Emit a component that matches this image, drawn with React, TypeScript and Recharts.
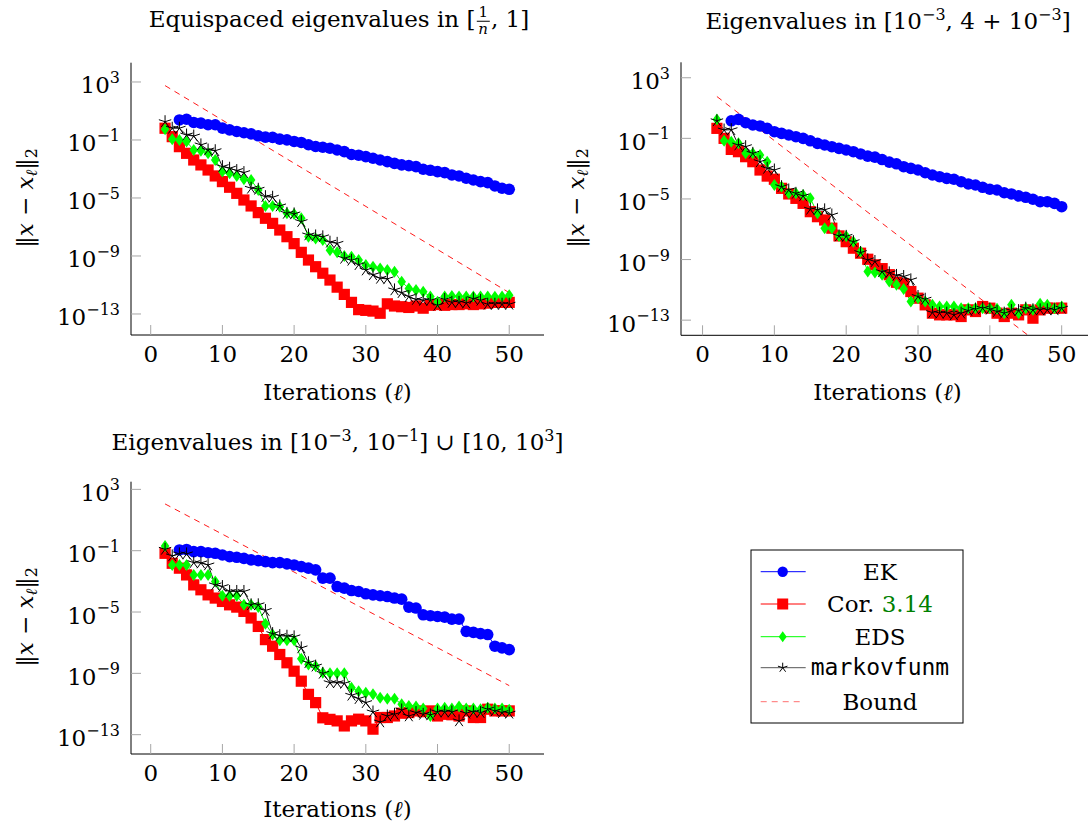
import React from "react";
import { LineChart, Line, XAxis, YAxis } from "recharts";

const SERIF = '"DejaVu Serif", serif';
const MONO = '"DejaVu Sans Mono", monospace';
const FS = 23;
const FS_SMALL = 16;

// iteration counts shown on the x axis (EK starts at 4)
const iterations = [
  2, 3, 4, 5, 6, 7, 8, 9, 10, 11, 12, 13, 14, 15, 16, 17, 18, 19, 20, 21, 22, 23, 24, 25, 26,
  27, 28, 29, 30, 31, 32, 33, 34, 35, 36, 37, 38, 39, 40, 41, 42, 43, 44, 45, 46, 47, 48, 49, 50,
];
const boundIts = [2, 50];
const xTicks = [0, 10, 20, 30, 40, 50];
const yTicks = [1e3, 1e-1, 1e-5, 1e-9, 1e-13];

// all errors below are log10 of ||x - x_l||_2

// --- Equispaced eigenvalues in [1/n, 1]
const ek1 = [
  0.38, 0.43, 0.21, 0.16, 0.05, 0.05, -0.18, -0.3, -0.41, -0.5, -0.58, -0.71, -0.8, -0.82, -0.94,
  -0.99, -1.1, -1.17, -1.33, -1.45, -1.5, -1.57, -1.69, -1.8, -2.0, -2.05, -2.15, -2.26, -2.38,
  -2.49, -2.61, -2.72, -2.77, -2.84, -3.02, -3.09, -3.18, -3.25, -3.41, -3.48, -3.64, -3.76,
  -3.87, -3.94, -4.17, -4.33, -4.4,
];
const cor1 = [
  -0.19, -0.77, -1.46, -1.92, -2.38, -2.72, -3.07, -3.48, -3.87, -4.26, -4.68, -5.14, -5.55,
  -6.01, -6.4, -6.75, -7.21, -7.67, -8.15, -8.75, -9.28, -9.74, -10.19, -10.66, -11.15, -11.65,
  -12.2, -12.7, -12.75, -12.8, -12.95, -12.3, -12.45, -12.5, -12.55, -12.45, -12.6, -12.4,
  -12.35, -12.4, -12.35, -12.35, -12.3, -12.35, -12.3, -12.25, -12.2, -12.2, -12.2,
];
const eds1 = [
  -0.26, -0.95, -1.0, -1.11, -1.69, -1.74, -1.92, -2.38, -3.18, -3.3, -3.48, -3.71, -3.76, -4.45,
  -5.55, -5.55, -5.6, -6.06, -6.1, -6.4, -7.67, -7.8, -7.9, -8.6, -8.75, -9.0, -9.05, -9.28,
  -9.62, -9.74, -9.86, -9.97, -10.09, -10.78, -11.24, -11.34, -11.47, -11.8, -12.15, -11.8,
  -11.76, -11.8, -11.8, -11.8, -11.8, -11.8, -11.82, -11.8, -11.7,
];
const mf1 = [
  0.26, -0.19, -0.19, -0.66, -0.73, -1.34, -1.69, -1.74, -2.84, -2.95, -3.11, -3.25, -4.33, -4.4,
  -4.91, -4.95, -5.55, -6.06, -6.1, -6.63, -7.55, -7.62, -7.68, -8.05, -8.13, -9.16, -9.3, -9.6,
  -9.97, -10.3, -10.54, -10.58, -11.34, -11.53, -11.8, -12.0, -12.06, -12.06, -12.4, -12.0,
  -12.2, -12.2, -12.25, -11.95, -12.06, -12.33, -12.33, -12.33, -12.33,
];
const bound1 = [2.75, -11.53];

// --- Eigenvalues in [1e-3, 4 + 1e-3]
const ek2 = [
  0.16, 0.25, 0.03, -0.12, -0.18, -0.34, -0.56, -0.67, -0.78, -0.89, -1.0, -1.16, -1.33, -1.44,
  -1.55, -1.66, -1.77, -1.88, -2.03, -2.17, -2.24, -2.4, -2.57, -2.68, -2.87, -2.98, -3.09,
  -3.27, -3.42, -3.53, -3.64, -3.7, -3.86, -4.01, -4.08, -4.23, -4.36, -4.41, -4.59, -4.67, -4.8,
  -4.89, -5.02, -5.18, -5.18, -5.29, -5.51,
];
const cor2 = [
  -0.34, -1.0, -1.73, -1.88, -2.21, -2.54, -3.09, -3.49, -3.7, -4.3, -4.67, -4.96, -5.29, -5.84,
  -6.17, -6.39, -6.93, -7.44, -7.82, -8.25, -8.58, -8.98, -9.35, -9.6, -10.0, -10.5, -10.6,
  -11.11, -11.55, -11.99, -12.54, -12.65, -12.65, -12.65, -12.76, -12.32, -12.43, -12.1, -12.21,
  -12.54, -12.76, -12.54, -12.65, -12.32, -12.87, -12.32, -12.21, -12.21, -12.21,
];
const eds2 = [
  0.25, -1.16, -1.22, -1.33, -1.99, -1.99, -2.1, -2.54, -4.08, -4.19, -4.63, -4.63, -4.74, -4.96,
  -5.94, -6.93, -6.93, -7.44, -7.47, -7.82, -8.48, -9.79, -9.86, -10.0, -10.45, -10.67, -10.95,
  -11.77, -11.55, -11.77, -11.99, -12.1, -12.1, -12.1, -12.21, -12.21, -12.21, -12.21, -12.21,
  -12.25, -12.54, -11.99, -12.54, -12.21, -12.32, -11.92, -11.99, -12.21, -12.1,
];
const mf2 = [
  0.16, -0.45, -0.43, -1.44, -1.55, -1.99, -2.54, -2.98, -3.09, -4.19, -4.41, -4.63, -4.8, -5.68,
  -5.72, -5.72, -6.06, -7.44, -7.47, -7.82, -8.54, -9.02, -9.13, -9.8, -9.88, -10.05, -10.12,
  -10.34, -11.44, -11.62, -12.5, -12.54, -12.54, -12.65, -12.54, -12.37, -12.28, -12.21, -12.28,
  -12.43, -12.54, -12.37, -12.37, -12.21, -12.32, -12.32, -12.32, -12.32, -12.21,
];
const bound2 = [1.76, -15.7];

// --- Eigenvalues in [1e-3, 1e-1] u [10, 1e3]
const ek3 = [
  -0.95, -0.92, -1.06, -1.06, -1.13, -1.17, -1.28, -1.39, -1.43, -1.5, -1.6, -1.65, -1.71, -1.78,
  -1.78, -1.86, -1.93, -2.04, -2.14, -2.25, -2.79, -2.79, -3.34, -3.44, -3.6, -3.66, -3.81,
  -3.88, -3.94, -3.99, -4.09, -4.16, -4.68, -4.74, -5.18, -5.24, -5.29, -5.33, -5.46, -5.46,
  -6.26, -6.33, -6.41, -6.47, -7.23, -7.34, -7.45,
];
const cor3 = [
  -1.17, -1.82, -2.14, -2.58, -3.23, -3.55, -3.88, -4.09, -4.31, -4.53, -4.68, -4.96, -5.39,
  -5.94, -6.8, -7.23, -7.77, -8.31, -8.86, -9.51, -10.37, -10.91, -11.9, -12.0, -12.1, -12.43,
  -12.1, -11.99, -12.1, -12.64, -11.88, -11.88, -11.78, -11.6, -11.56, -11.45, -11.5, -11.45,
  -11.78, -11.67, -11.7, -11.78, -11.45, -11.88, -11.88, -11.34, -11.45, -11.45, -11.45,
];
const eds3 = [
  -0.69, -1.93, -1.93, -1.93, -2.58, -2.58, -2.58, -3.01, -3.94, -3.94, -3.94, -4.53, -4.53,
  -4.68, -5.76, -6.47, -6.84, -6.84, -6.84, -8.05, -8.42, -8.53, -8.96, -9.0, -9.0, -9.0, -9.94,
  -10.16, -10.26, -10.37, -10.59, -10.65, -10.65, -11.02, -11.13, -11.17, -11.3, -11.78, -11.3,
  -11.24, -11.3, -11.17, -11.3, -11.3, -11.34, -11.24, -11.3, -11.3, -11.37,
];
const mf3 = [
  -0.91, -1.34, -1.21, -1.21, -1.78, -1.8, -1.93, -3.23, -3.34, -3.66, -3.66, -3.66, -4.53, -4.53,
  -4.9, -6.41, -6.54, -6.58, -6.62, -7.34, -8.31, -8.53, -9.0, -9.61, -9.61, -9.65, -10.43,
  -10.65, -10.91, -11.52, -12.17, -11.78, -11.67, -11.39, -11.78, -11.56, -11.67, -11.71, -11.52,
  -11.52, -11.52, -12.1, -11.6, -11.52, -11.56, -11.34, -11.45, -11.56, -11.6,
];
const bound3 = [2.05, -9.8];

type Row = {
  x: number;
  ek: number | null;
  cor: number;
  eds: number;
  mf: number;
  bound: number | null;
};

function buildRows(ek: number[], cor: number[], eds: number[], mf: number[], bound: number[]): Row[] {
  return iterations.map((it, k) => {
    const b = boundIts.indexOf(it);
    return {
      x: it,
      ek: it >= 4 ? 10 ** ek[k - 2] : null,
      cor: 10 ** cor[k],
      eds: 10 ** eds[k],
      mf: 10 ** mf[k],
      bound: b >= 0 ? 10 ** bound[b] : null,
    };
  });
}

// ---------- marks ----------
const BLUE = "#0000ff";
const RED = "#ff0000";
const GREEN = "#00ff00";

function starPath(cx: number, cy: number, r: number) {
  let d = "";
  for (let k = 0; k < 5; k++) {
    const a = Math.PI / 2 + (k * 2 * Math.PI) / 5;
    d += `M${cx} ${cy}L${cx + r * Math.cos(a)} ${cy - r * Math.sin(a)}`;
  }
  return d;
}

const bad = (v: any) => v == null || Number.isNaN(v);

const circleDot = (p: any) =>
  bad(p.cy) ? <g key={`c${p.index}`} /> : <circle key={`c${p.index}`} cx={p.cx} cy={p.cy} r={5.8} fill={BLUE} />;

const squareDot = (p: any) =>
  bad(p.cy) ? (
    <g key={`s${p.index}`} />
  ) : (
    <rect key={`s${p.index}`} x={p.cx - 5.6} y={p.cy - 5.6} width={11.2} height={11.2} fill={RED} />
  );

const diamondDot = (p: any) =>
  bad(p.cy) ? (
    <g key={`d${p.index}`} />
  ) : (
    <polygon
      key={`d${p.index}`}
      points={`${p.cx},${p.cy - 6} ${p.cx + 4.3},${p.cy} ${p.cx},${p.cy + 6} ${p.cx - 4.3},${p.cy}`}
      fill={GREEN}
    />
  );

const starDot = (p: any) =>
  bad(p.cy) ? (
    <g key={`t${p.index}`} />
  ) : (
    <path key={`t${p.index}`} d={starPath(p.cx, p.cy, 6.5)} stroke="#000" strokeWidth={1} fill="none" />
  );

// ---------- ticks ----------
const YTick = ({ x, y, payload }: any) => {
  const p = Math.round(Math.log10(payload.value));
  return (
    <text x={x} y={y + 11.5} textAnchor="end" fill="#000" fontFamily={SERIF} fontSize={FS}>
      10
      <tspan dy={-10.5} fontSize={FS_SMALL}>
        {p < 0 ? `\u2212${-p}` : `${p}`}
      </tspan>
    </text>
  );
};

const XTick = ({ x, y, payload }: any) => (
  <text x={x} y={y + 27} textAnchor="middle" fill="#000" fontFamily={SERIF} fontSize={FS}>
    {payload.value}
  </text>
);

type PanelProps = {
  left: number;
  top: number;
  width: number;
  height: number;
  plotLeft: number;
  plotTop: number;
  plotRight: number;
  plotBottom: number;
  xDomain: [number, number];
  yExp: [number, number];
  rows: Row[];
};

function Panel(props: PanelProps) {
  const { left, top, width, height, plotLeft, plotTop, plotRight, plotBottom, xDomain, yExp, rows } = props;
  const yDomain = [10 ** yExp[0], 10 ** yExp[1]];
  const tickLine = { stroke: "#a6a6a6", strokeWidth: 1 };
  const axisLine = { stroke: "#000", strokeWidth: 1 };
  return (
    <div style={{ position: "absolute", left, top, width, height }}>
      <LineChart
        width={width}
        height={height}
        data={rows}
        margin={{ top: plotTop, right: width - plotRight, bottom: 0, left: 0 }}
      >
        <XAxis
          xAxisId="b"
          dataKey="x"
          type="number"
          domain={xDomain}
          ticks={xTicks}
          allowDataOverflow
          height={height - plotBottom}
          tickSize={-10}
          tickMargin={10}
          tickLine={tickLine}
          axisLine={axisLine}
          tick={<XTick />}
        />
        <XAxis
          xAxisId="t"
          orientation="top"
          dataKey="x"
          type="number"
          domain={xDomain}
          ticks={xTicks}
          allowDataOverflow
          height={0}
          tickSize={-10}
          tick={false}
          tickLine={tickLine}
          axisLine={axisLine}
        />
        <YAxis
          yAxisId="l"
          type="number"
          scale="log"
          domain={yDomain}
          ticks={yTicks}
          allowDataOverflow
          width={plotLeft}
          tickSize={-10}
          tickMargin={21}
          tickLine={tickLine}
          axisLine={axisLine}
          tick={<YTick />}
        />
        <YAxis
          yAxisId="r"
          orientation="right"
          type="number"
          scale="log"
          domain={yDomain}
          ticks={yTicks}
          allowDataOverflow
          width={0}
          tickSize={-10}
          tick={false}
          tickLine={tickLine}
          axisLine={axisLine}
        />
        <Line
          xAxisId="b"
          yAxisId="l"
          dataKey="ek"
          stroke={BLUE}
          strokeWidth={1}
          dot={circleDot}
          isAnimationActive={false}
        />
        <Line
          xAxisId="b"
          yAxisId="l"
          dataKey="cor"
          stroke={RED}
          strokeWidth={1}
          dot={squareDot}
          isAnimationActive={false}
        />
        <Line
          xAxisId="b"
          yAxisId="l"
          dataKey="eds"
          stroke={GREEN}
          strokeWidth={1}
          dot={diamondDot}
          isAnimationActive={false}
        />
        <Line
          xAxisId="b"
          yAxisId="l"
          dataKey="mf"
          stroke="#000"
          strokeWidth={0.9}
          dot={starDot}
          isAnimationActive={false}
        />
        <Line
          xAxisId="b"
          yAxisId="l"
          dataKey="bound"
          stroke={RED}
          strokeWidth={0.9}
          strokeDasharray="6 5"
          connectNulls
          dot={false}
          isAnimationActive={false}
        />
      </LineChart>
    </div>
  );
}

const center = (x: number, y: number, extra: React.CSSProperties = {}): React.CSSProperties => ({
  position: "absolute",
  left: x,
  top: y,
  transform: "translate(-50%, -50%)",
  whiteSpace: "nowrap",
  fontFamily: SERIF,
  fontSize: FS,
  lineHeight: 1,
  color: "#000",
  ...extra,
});

const supStyle: React.CSSProperties = { fontSize: FS_SMALL, verticalAlign: "0.55em", lineHeight: 0 };
const subStyle: React.CSSProperties = { fontSize: FS_SMALL, verticalAlign: "-0.3em", lineHeight: 0 };

function YLabel({ x, y }: { x: number; y: number }) {
  return (
    <div style={center(x, y, { transform: "translate(-50%, -50%) rotate(-90deg)" })}>
      ‖<i>x</i> − <i>x</i>
      <span style={subStyle}>
        <i>ℓ</i>
      </span>
      ‖<span style={subStyle}>2</span>
    </div>
  );
}

function XLabel({ x, y }: { x: number; y: number }) {
  return (
    <div style={center(x, y)}>
      Iterations (<i>ℓ</i>)
    </div>
  );
}

function Legend() {
  const rowsY = [31.7, 64, 96.7, 127.7, 161.7];
  const x0 = 20.7;
  const x1 = 65.7;
  const mx = 42.7;
  const tx = 140;
  const txt = { fontFamily: SERIF, fontSize: FS, fill: "#000", textAnchor: "middle" as const };
  return (
    <svg style={{ position: "absolute", left: 740, top: 540 }} width={240} height={190}>
      <rect x={11} y={10} width={212} height={173} fill="#fff" stroke="#000" strokeWidth={1} />
      <line x1={x0} x2={x1} y1={rowsY[0]} y2={rowsY[0]} stroke={BLUE} />
      <circle cx={mx} cy={rowsY[0]} r={5.2} fill={BLUE} />
      <text x={tx} y={rowsY[0] + 8} {...txt}>
        EK
      </text>
      <line x1={x0} x2={x1} y1={rowsY[1]} y2={rowsY[1]} stroke={RED} />
      <rect x={mx - 5.5} y={rowsY[1] - 5.5} width={11} height={11} fill={RED} />
      <text x={tx} y={rowsY[1] + 8} {...txt}>
        Cor. <tspan fill="#008000">3.14</tspan>
      </text>
      <line x1={x0} x2={x1} y1={rowsY[2]} y2={rowsY[2]} stroke={GREEN} />
      <polygon
        points={`${mx},${rowsY[2] - 5.5} ${mx + 4},${rowsY[2]} ${mx},${rowsY[2] + 5.5} ${mx - 4},${rowsY[2]}`}
        fill={GREEN}
      />
      <text x={tx} y={rowsY[2] + 8} {...txt}>
        EDS
      </text>
      <line x1={x0} x2={x1} y1={rowsY[3]} y2={rowsY[3]} stroke="#555" />
      <path d={starPath(mx, rowsY[3], 5)} stroke="#000" strokeWidth={1} />
      <text x={tx} y={rowsY[3] + 7} {...txt} fontFamily={MONO} fontSize={23}>
        markovfunm
      </text>
      <line
        x1={x0}
        x2={x1 - 4}
        y1={rowsY[4]}
        y2={rowsY[4]}
        stroke="#ff7070"
        strokeDasharray="6 5"
      />
      <text x={tx} y={rowsY[4] + 8} {...txt}>
        Bound
      </text>
    </svg>
  );
}

export default function App() {
  const rows1 = buildRows(ek1, cor1, eds1, mf1, bound1);
  const rows2 = buildRows(ek2, cor2, eds2, mf2, bound2);
  const rows3 = buildRows(ek3, cor3, eds3, mf3, bound3);
  return (
    <div
      style={{
        position: "absolute",
        left: 0,
        top: 0,
        width: 1088,
        height: 825,
        overflow: "hidden",
        background: "#fff",
      }}
    >
      <Panel
        left={0}
        top={0}
        width={560}
        height={420}
        plotLeft={131}
        plotTop={62.7}
        plotRight={544}
        plotBottom={335}
        xDomain={[-2.75, 54.85]}
        yExp={[-14.45, 4.33]}
        rows={rows1}
      />
      <Panel
        left={560}
        top={0}
        width={560}
        height={420}
        plotLeft={121}
        plotTop={62.3}
        plotRight={534}
        plotBottom={335.3}
        xDomain={[-3.0, 54.5]}
        yExp={[-14.0, 4.02]}
        rows={rows2}
      />
      <Panel
        left={0}
        top={420}
        width={560}
        height={405}
        plotLeft={131}
        plotTop={61.7}
        plotRight={544}
        plotBottom={334}
        xDomain={[-2.75, 54.85]}
        yExp={[-14.26, 3.5]}
        rows={rows3}
      />

      <div style={center(339, 21)}>
        Equispaced eigenvalues in [
        <span
          style={{
            display: "inline-flex",
            flexDirection: "column",
            alignItems: "center",
            verticalAlign: "middle",
            fontSize: 15,
            lineHeight: 1.05,
            margin: "0 1px",
          }}
        >
          <span style={{ borderBottom: "1px solid #000", padding: "0 2px" }}>1</span>
          <i>n</i>
        </span>
        , 1]
      </div>
      <div style={center(888, 21)}>
        Eigenvalues in [10<span style={supStyle}>−3</span>, 4 + 10<span style={supStyle}>−3</span>]
      </div>
      <div style={center(337.5, 442)}>
        Eigenvalues in [10<span style={supStyle}>−3</span>, 10<span style={supStyle}>−1</span>] ∪ [10, 10
        <span style={supStyle}>3</span>]
      </div>

      <YLabel x={25} y={198} />
      <YLabel x={576} y={198} />
      <YLabel x={25} y={617} />
      <XLabel x={337.5} y={391.7} />
      <XLabel x={887.5} y={391.7} />
      <XLabel x={337.5} y={809} />

      <Legend />
    </div>
  );
}
